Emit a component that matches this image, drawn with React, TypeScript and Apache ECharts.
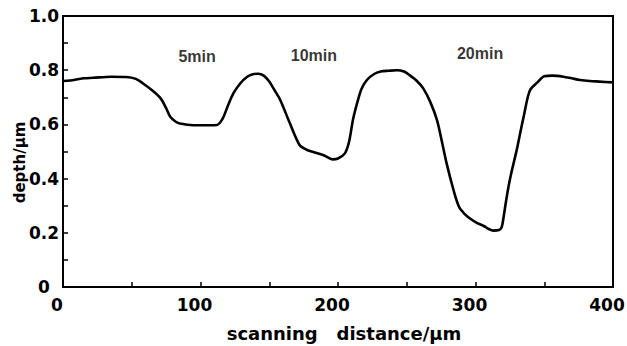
import React, { useEffect, useRef } from "react";
import * as echarts from "echarts";

const xTickLabels = ["0", "100", "200", "300", "400"];
const yTickLabels = ["0", "0.2", "0.4", "0.6", "0.8", "1.0"];

const distance = [
  0, 5, 15, 22, 35, 46, 53, 58, 65, 71, 75, 78, 82, 85, 95, 105, 112, 116, 120, 124,
  129, 134, 138, 142, 146, 150, 154, 158, 165, 172, 177, 182, 190, 196, 200, 205, 208,
  211, 214, 217, 221, 226, 231, 237, 243, 248, 252, 257, 262, 267, 272, 275, 279, 284,
  288, 292, 296, 301, 306, 310, 313, 317, 319, 320.5, 322, 324, 326, 330, 333, 335, 338,
  340, 345, 350, 356, 364, 370, 376, 383, 390, 400,
];
const depth = [
  0.76, 0.762, 0.77, 0.772, 0.776, 0.775, 0.768, 0.752, 0.725, 0.696, 0.66, 0.628, 0.61,
  0.603, 0.597, 0.597, 0.598, 0.62, 0.67, 0.715, 0.752, 0.776, 0.785, 0.787, 0.78, 0.758,
  0.725, 0.69, 0.604, 0.524, 0.507, 0.498, 0.485, 0.471, 0.474, 0.493, 0.535, 0.62, 0.68,
  0.73, 0.764, 0.785, 0.795, 0.798, 0.8, 0.795, 0.782, 0.762, 0.733, 0.684, 0.616, 0.55,
  0.456, 0.358, 0.296, 0.27, 0.253, 0.237, 0.225, 0.213, 0.208, 0.21, 0.22, 0.26, 0.31,
  0.37, 0.42, 0.506, 0.58, 0.628, 0.7, 0.73, 0.755, 0.778, 0.78, 0.776, 0.77, 0.764, 0.76,
  0.758, 0.755,
];

const annotationNames = ["5min", "10min", "20min"];
const annotationX = [97.5, 182.5, 303.3];
const annotationY = [0.85, 0.853, 0.86];

export default function App() {
  const ref = useRef<HTMLDivElement>(null);
  useEffect(() => {
    if (!ref.current) return;
    const chart = echarts.init(ref.current, null, { renderer: "svg" });
    const tickFont = {
      fontFamily: "DejaVu Sans",
      fontWeight: "bold" as const,
      fontSize: 17,
      color: "#000",
    };
    chart.setOption({
      animation: false,
      backgroundColor: "#fff",
      grid: {
        left: 63,
        right: 14,
        top: 16,
        bottom: 59,
        containLabel: false,
        outerBoundsMode: "none",
        show: true,
        borderColor: "#000",
        borderWidth: 2,
        backgroundColor: "transparent",
      },
      xAxis: {
        type: "value",
        min: 0,
        max: 400,
        interval: 50,
        name: "scanning   distance/\u03bcm",
        nameLocation: "middle",
        nameGap: 37,
        nameMoveOverlap: false,
        nameTextStyle: {
          fontFamily: "DejaVu Sans",
          fontWeight: "bold",
          fontSize: 18,
          color: "#000",
          padding: [0, 0, 0, 12],
        },
        axisLine: { show: true, lineStyle: { color: "#000", width: 2 } },
        axisTick: { show: true, inside: true, length: 5, lineStyle: { color: "#000", width: 1.5 } },
        splitLine: { show: false },
        axisLabel: {
          ...tickFont,
          margin: 9,
          padding: [0, 12, 0, 0],
          formatter: (v: number) => {
            const i = xTickLabels.indexOf(String(Math.round(v)));
            return Math.round(v) % 100 === 0 && i >= 0 ? xTickLabels[i] : "";
          },
        },
      },
      yAxis: {
        type: "value",
        min: 0,
        max: 1,
        interval: 0.1,
        name: "depth/\u03bcm",
        nameLocation: "middle",
        nameRotate: 90,
        nameGap: 36,
        nameMoveOverlap: false,
        nameTextStyle: {
          fontFamily: "DejaVu Sans",
          fontWeight: "bold",
          fontSize: 15,
          color: "#000",
          padding: [0, 22, 0, 0],
        },
        axisLine: { show: true, lineStyle: { color: "#000", width: 2 } },
        axisTick: { show: true, inside: true, length: 5, lineStyle: { color: "#000", width: 1.5 } },
        splitLine: { show: false },
        axisLabel: {
          ...tickFont,
          align: "center",
          margin: 19,
          formatter: (v: number) => {
            const k = Math.round(v * 10);
            return k % 2 === 0 ? yTickLabels[k / 2] : "";
          },
        },
      },
      series: [
        {
          type: "line",
          data: distance.map((d, i) => [d, depth[i]]),
          showSymbol: false,
          smooth: 0.3,
          lineStyle: { color: "#000", width: 2.6 },
        },
        {
          type: "scatter",
          symbolSize: 0,
          data: annotationNames.map((n, i) => ({ name: n, value: [annotationX[i], annotationY[i]] })),
          label: {
            show: true,
            position: "inside",
            formatter: (p: any) => p.name,
            fontFamily: "Liberation Sans",
            fontWeight: "bold",
            fontSize: 16,
            color: "#000",
          },
        },
      ],
    });
    return () => chart.dispose();
  }, []);
  return (
    <div
      ref={ref}
      style={{ position: "fixed", left: 0, top: 0, width: 627, height: 346, background: "#fff" }}
    />
  );
}
